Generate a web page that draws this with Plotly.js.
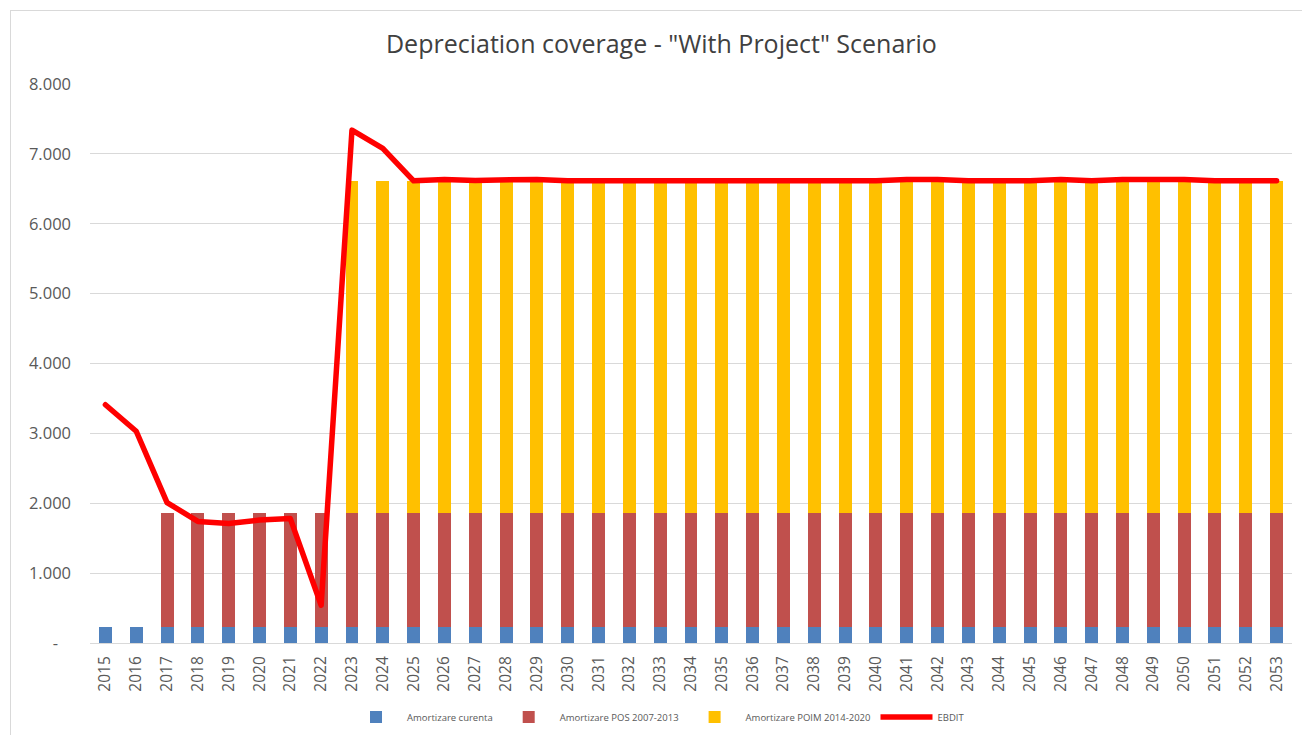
<!DOCTYPE html>
<html>
<head>
<meta charset="utf-8">
<script src="https://cdn.plot.ly/plotly-3.0.1.min.js"></script>
<style>
  html, body { margin: 0; padding: 0; background: #ffffff; }
  #wrap { position: relative; width: 1302px; height: 735px; overflow: hidden; }
  #chart { position: absolute; left: 0; top: 0; width: 1302px; height: 735px; }
  #frame { position: absolute; left: 10px; top: 10px; width: 1400px; height: 800px;
           border-left: 1px solid #d9d9d9; border-top: 1px solid #d9d9d9; pointer-events: none; }
  #chart .scatterlayer path.js-line { stroke-linejoin: round !important; stroke-linecap: round !important; }
</style>
</head>
<body>
<div id="wrap">
  <div id="chart"></div>
  <div id="frame"></div>
</div>
<script>
const years = ["2015","2016","2017","2018","2019","2020","2021","2022","2023","2024",
  "2025","2026","2027","2028","2029","2030","2031","2032","2033","2034",
  "2035","2036","2037","2038","2039","2040","2041","2042","2043","2044",
  "2045","2046","2047","2048","2049","2050","2051","2052","2053"];

const amortizareCurenta = [230,230,230,230,230,230,230,230,230,230,
  230,230,230,230,230,230,230,230,230,230,
  230,230,230,230,230,230,230,230,230,230,
  230,230,230,230,230,230,230,230,230];

const amortizarePOS = [0,0,1630,1630,1630,1630,1630,1630,1630,1630,
  1630,1630,1630,1630,1630,1630,1630,1630,1630,1630,
  1630,1630,1630,1630,1630,1630,1630,1630,1630,1630,
  1630,1630,1630,1630,1630,1630,1630,1630,1630];

const amortizarePOIM = [0,0,0,0,0,0,0,0,4750,4750,
  4750,4750,4750,4750,4750,4750,4750,4750,4750,4750,
  4750,4750,4750,4750,4750,4750,4750,4750,4750,4750,
  4750,4750,4750,4750,4750,4750,4750,4750,4750];

const ebdit = [3410,3030,2010,1740,1710,1760,1780,540,7340,7080,
  6615,6635,6620,6620,6635,6615,6615,6615,6615,6615,
  6615,6615,6615,6615,6615,6615,6635,6635,6615,6615,
  6615,6635,6615,6635,6635,6635,6615,6615,6615];

const yTickVals = [0,1000,2000,3000,4000,5000,6000,7000,8000];
const yTickText = ["-\u00a0\u00a0\u00a0","1.000","2.000","3.000","4.000","5.000","6.000","7.000","8.000"];

const seriesNames = ["Amortizare curenta","Amortizare POS 2007-2013","Amortizare POIM 2014-2020","EBDIT"];

const traces = [
  { type: "bar", name: seriesNames[0], x: years, y: amortizareCurenta,
    marker: { color: "#4f81bd" }, hoverinfo: "x+y+name" },
  { type: "bar", name: seriesNames[1], x: years, y: amortizarePOS,
    marker: { color: "#c0504d" }, hoverinfo: "x+y+name" },
  { type: "bar", name: seriesNames[2], x: years, y: amortizarePOIM,
    marker: { color: "#ffc000" }, hoverinfo: "x+y+name" },
  { type: "scatter", mode: "lines", name: seriesNames[3], x: years, y: ebdit,
    line: { color: "#ff0000", width: 5.5 }, hoverinfo: "x+y+name" }
];

const layout = {
  width: 1302, height: 735,
  paper_bgcolor: "#ffffff", plot_bgcolor: "#ffffff",
  margin: { l: 90, r: 10, t: 84, b: 92, pad: 0 },
  font: { family: "'Open Sans', 'Liberation Sans', sans-serif", color: "#595959", size: 15 },
  title: {
    text: 'Depreciation coverage - "With Project" Scenario',
    font: { family: "'Open Sans', sans-serif", size: 25, color: "#404040" },
    x: 0.508, xanchor: "center", xref: "container",
    y: 1 - 44 / 735, yanchor: "middle", yref: "container"
  },
  barmode: "stack",
  bargap: 0.58,
  showlegend: true,
  legend: {
    orientation: "h", xref: "container", yref: "container",
    x: 0.505, xanchor: "center", y: 1 - 717 / 735, yanchor: "middle",
    font: { size: 9.5, color: "#595959" }, traceorder: "normal",
    itemwidth: 52
  },
  xaxis: {
    type: "category", tickangle: -90,
    tickfont: { size: 15.5, color: "#595959" },
    showgrid: false, zeroline: false,
    showline: true, linecolor: "#d9d9d9", linewidth: 1,
    ticks: "", ticklabelstandoff: 6,
    fixedrange: true
  },
  yaxis: {
    range: [0, 8000],
    tickvals: yTickVals, ticktext: yTickText,
    tickfont: { size: 16.5, color: "#595959" },
    showgrid: true, gridcolor: "#d9d9d9", gridwidth: 1,
    zeroline: false, showline: false, ticks: "",
    ticklabelstandoff: 18,
    fixedrange: true
  }
};

Plotly.newPlot("chart", traces, layout, { displayModeBar: false, staticPlot: true });
</script>
</body>
</html>
